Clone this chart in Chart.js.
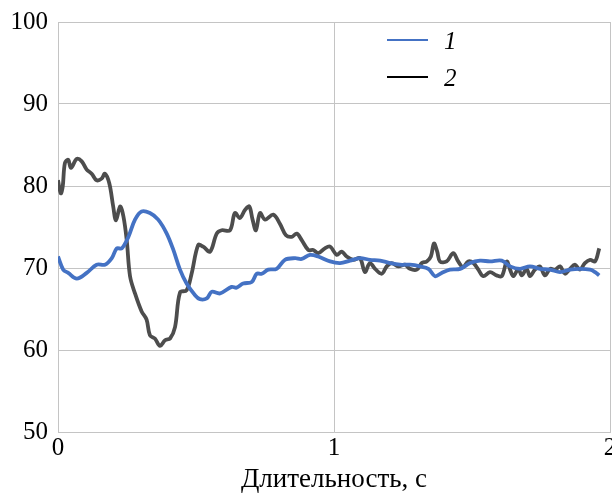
<!DOCTYPE html>
<html><head><meta charset="utf-8">
<script src="https://cdn.jsdelivr.net/npm/chart.js@4/dist/chart.umd.min.js"></script>
<style>html,body{margin:0;padding:0;background:#fff}</style>
</head><body>
<canvas id="c" width="612" height="498" style="display:block"></canvas>
<script>
const xTicks = [0, 1, 2];
const yTicks = [50, 60, 70, 80, 90, 100];
const seriesLabels = ['1', '2'];
const xAxisTitle = 'Длительность, с';

const series1Time = [0, 0.019, 0.037, 0.068, 0.104, 0.140, 0.170, 0.195, 0.213, 0.231, 0.255, 0.279, 0.303, 0.333, 0.363, 0.394, 0.418, 0.442, 0.466, 0.496, 0.514, 0.539, 0.557, 0.587, 0.629, 0.647, 0.671, 0.702, 0.720, 0.738, 0.762, 0.792, 0.822, 0.859, 0.883, 0.913, 0.943, 0.986, 1.022, 1.058, 1.094, 1.130, 1.167, 1.203, 1.239, 1.275, 1.312, 1.342, 1.366, 1.390, 1.420, 1.457, 1.493, 1.529, 1.565, 1.608, 1.638, 1.674, 1.710, 1.746, 1.783, 1.819, 1.855, 1.891, 1.928, 1.946, 1.961];
const series1Value = [71.4, 69.8, 69.4, 68.7, 69.4, 70.4, 70.4, 71.2, 72.4, 72.4, 73.8, 75.9, 76.9, 76.7, 75.9, 74.2, 72.2, 69.8, 68.1, 66.7, 66.2, 66.3, 67.1, 66.9, 67.7, 67.6, 68.1, 68.3, 69.3, 69.3, 69.8, 69.9, 71.0, 71.2, 71.1, 71.6, 71.4, 70.8, 70.6, 70.9, 71.2, 71.0, 70.9, 70.6, 70.4, 70.4, 70.2, 69.9, 69.0, 69.4, 69.8, 69.9, 70.6, 70.9, 70.8, 70.9, 70.2, 69.9, 70.2, 69.9, 69.8, 69.5, 69.8, 69.9, 69.8, 69.5, 69.1];

const series2Time = [0, 0.010, 0.017, 0.025, 0.037, 0.047, 0.068, 0.086, 0.104, 0.122, 0.140, 0.158, 0.170, 0.186, 0.200, 0.210, 0.225, 0.237, 0.249, 0.261, 0.279, 0.303, 0.321, 0.333, 0.351, 0.370, 0.388, 0.406, 0.424, 0.442, 0.466, 0.484, 0.508, 0.526, 0.551, 0.575, 0.593, 0.623, 0.641, 0.659, 0.678, 0.693, 0.705, 0.717, 0.732, 0.750, 0.780, 0.804, 0.826, 0.847, 0.865, 0.883, 0.907, 0.925, 0.943, 0.967, 0.986, 1.010, 1.028, 1.046, 1.070, 1.094, 1.112, 1.130, 1.149, 1.173, 1.191, 1.209, 1.233, 1.257, 1.275, 1.300, 1.318, 1.336, 1.351, 1.362, 1.374, 1.384, 1.408, 1.432, 1.450, 1.468, 1.486, 1.505, 1.523, 1.541, 1.565, 1.589, 1.608, 1.626, 1.638, 1.650, 1.668, 1.680, 1.698, 1.710, 1.728, 1.746, 1.764, 1.783, 1.801, 1.819, 1.837, 1.855, 1.873, 1.891, 1.909, 1.928, 1.946, 1.961];
const series2Value = [80.7, 79.1, 79.9, 82.8, 83.2, 82.2, 83.3, 83.0, 82.0, 81.5, 80.7, 80.9, 81.5, 80.3, 77.5, 75.8, 77.5, 76.3, 73.4, 69.0, 66.9, 64.7, 63.7, 61.8, 61.4, 60.5, 61.2, 61.4, 62.8, 67.0, 67.3, 69.3, 72.8, 72.6, 72.0, 74.2, 74.6, 74.6, 76.7, 76.1, 77.1, 77.5, 75.9, 74.6, 76.7, 75.9, 76.5, 75.4, 74.0, 73.8, 74.2, 73.4, 72.2, 72.2, 71.8, 72.4, 72.6, 71.6, 72.0, 71.4, 71.0, 71.2, 69.5, 70.6, 69.9, 69.3, 70.2, 70.6, 70.2, 70.4, 69.9, 69.8, 70.6, 70.8, 71.4, 73.0, 72.0, 70.8, 70.8, 71.8, 70.8, 70.1, 70.8, 70.6, 69.8, 69.0, 69.5, 69.1, 69.0, 70.8, 69.8, 69.0, 69.9, 69.1, 69.9, 69.0, 69.8, 70.2, 69.1, 69.9, 69.8, 70.2, 69.3, 69.9, 70.4, 69.8, 70.6, 71.0, 70.8, 72.4];

const toPoints = (xs, ys) => xs.map((x, i) => ({x: x, y: ys[i]}));

const FONT = 'Liberation Serif';
const legendColors = ['#4472C4', '#000000'];

const insideLegend = {
  id: 'insideLegend',
  afterDraw(chart) {
    const ctx = chart.ctx;
    const a = chart.chartArea;
    ctx.save();
    chart.data.datasets.forEach((ds, i) => {
      const y = a.top + 18 + i * 37;
      ctx.strokeStyle = legendColors[i];
      ctx.lineWidth = 2;
      ctx.beginPath();
      ctx.moveTo(a.left + 329, y);
      ctx.lineTo(a.left + 370, y);
      ctx.stroke();
      ctx.fillStyle = '#000';
      ctx.font = 'italic 25px "' + FONT + '"';
      ctx.textBaseline = 'middle';
      ctx.textAlign = 'left';
      ctx.fillText(ds.label, a.left + 386, y + 2);
    });
    ctx.restore();
  }
};

new Chart(document.getElementById('c'), {
  type: 'line',
  data: {
    datasets: [
      {label: seriesLabels[0], data: toPoints(series1Time, series1Value), borderColor: '#4472C4', borderWidth: 3.8, pointRadius: 0, tension: 0.35, fill: false},
      {label: seriesLabels[1], data: toPoints(series2Time, series2Value), borderColor: '#4d4d4d', borderWidth: 3.8, pointRadius: 0, tension: 0.35, fill: false}
    ]
  },
  options: {
    responsive: false,
    devicePixelRatio: 1,
    animation: false,
    layout: {padding: {top: 22, right: 2, bottom: 0, left: 0}},
    plugins: {legend: {display: false}, tooltip: {enabled: false}},
    scales: {
      x: {
        type: 'linear', min: xTicks[0], max: xTicks[xTicks.length - 1],
        afterBuildTicks: s => { s.ticks = xTicks.map(v => ({value: v})); },
        afterFit: s => { s.height = 66; s.paddingLeft = 0; s.paddingRight = 0; },
        grid: {color: '#c4c4c4', lineWidth: 1, drawTicks: false},
        border: {color: '#c4c4c4'},
        ticks: {padding: 1, color: '#000', font: {family: FONT, size: 25}, maxRotation: 0},
        title: {display: true, text: xAxisTitle, color: '#000', font: {family: FONT, size: 27}, padding: {top: 0, bottom: 2}}
      },
      y: {
        min: yTicks[0], max: yTicks[yTicks.length - 1],
        afterBuildTicks: s => { s.ticks = yTicks.map(v => ({value: v})); },
        afterFit: s => { s.width = 58; s.paddingTop = 0; s.paddingBottom = 0; },
        grid: {color: '#c4c4c4', lineWidth: 1, drawTicks: false},
        border: {color: '#c4c4c4'},
        ticks: {padding: 10, color: '#000', font: {family: FONT, size: 25}}
      }
    }
  },
  plugins: [insideLegend]
});
</script>
</body></html>
